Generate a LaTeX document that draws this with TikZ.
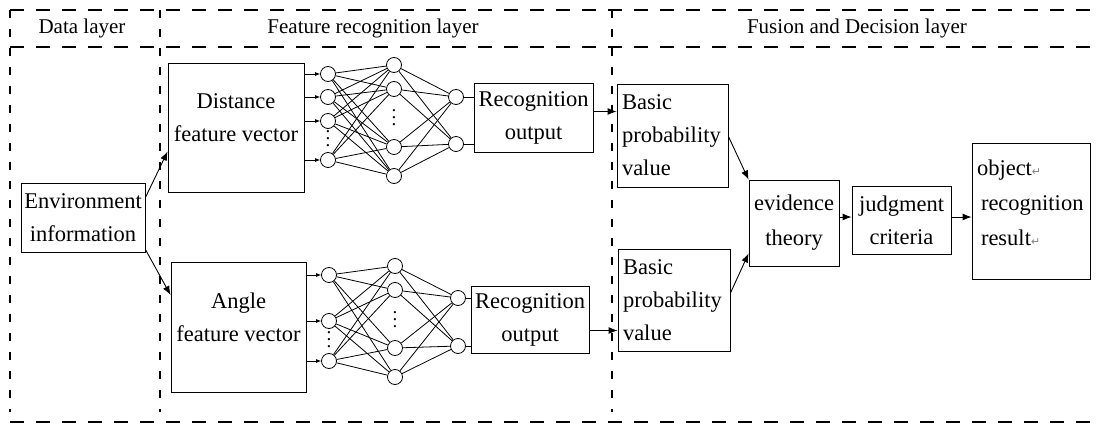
\documentclass[tikz,border=0pt]{standalone}
\usepackage{fontspec}
\setmainfont{Liberation Serif}
\newfontfamily\symfont{DejaVu Sans}
\usetikzlibrary{arrows.meta}

\newcommand{\retmark}{{\symfont\fontsize{11}{11}\selectfont\color{gray}↵}}
\newcommand{\colondots}{\vbox{\baselineskip=7pt\lineskiplimit=0pt\hbox{.}\hbox{.}\hbox{.}}}

\tikzstyle{box} = [rectangle, draw, line width=0.9pt, inner sep=0pt, align=center, font=\fontsize{22.5}{33}\selectfont]
\tikzstyle{leftbox} = [box, align=left, inner xsep=5pt]
\tikzstyle{neuron} = [circle, draw, fill=white, line width=0.8pt, minimum size=15pt, inner sep=0pt]
\tikzstyle{vdotsnode} = [inner sep=0pt, font=\fontsize{19}{19}\selectfont]
\tikzstyle{layertitle} = [font=\fontsize{21}{24}\selectfont]
\tikzstyle{arrow} = [line width=0.9pt, -{Latex[length=9pt,width=7pt]}]
\tikzstyle{feed} = [line width=0.8pt, -{Latex[length=5pt,width=4pt]}]
\tikzstyle{link} = [line width=0.8pt]
\tikzstyle{hframe} = [line width=2.6pt, dash pattern=on 14pt off 12pt]
\tikzstyle{vframe} = [line width=2.6pt, dash pattern=on 8pt off 11pt]

\begin{document}
\begin{tikzpicture}[x=1pt, y=-1pt]
    \useasboundingbox (0,0) rectangle (1097,425);
    % dashed frame of the three layers
    \draw [hframe] (10,10) -- (1097,10);
    \draw [hframe] (10,47) -- (1097,47);
    \draw [hframe] (10,422) -- (1097,422);
    \draw [vframe] (10,10) -- (10,412);
    \draw [vframe] (160,10) -- (160,412);
    \draw [vframe] (612,10) -- (612,412);
    \node [layertitle] at (82,28) (datatitle) {Data layer};
    \node [layertitle] at (373,28) (feattitle) {Feature recognition layer};
    \node [layertitle] at (857,28) (fusetitle) {Fusion and Decision layer};

    % data and feature boxes
    \node [box, minimum width=124pt, minimum height=69pt] at (83,217.5) (env) {Environment\\information};
    \node [box, minimum width=136pt, minimum height=129pt, text depth=20pt] at (236,127.5) (dist) {Distance\\feature vector};
    \node [box, minimum width=135pt, minimum height=130pt, text depth=20pt] at (238.5,327) (ang) {Angle\\feature vector};
    \node [box, minimum width=119pt, minimum height=69pt] at (533.5,117.5) (rec1) {Recognition\\output};
    \node [box, minimum width=118pt, minimum height=67pt] at (530,319.5) (rec2) {Recognition\\output};

    % upper network
    \foreach \y [count=\i] in {74,97,121,160}
        \node [neuron] at (328,\y) (din\i) {};
    \foreach \y [count=\i] in {65,89,147,176}
        \node [neuron] at (394,\y) (dhid\i) {};
    \foreach \y [count=\i] in {97,144}
        \node [neuron] at (456,\y) (dout\i) {};
    \node [vdotsnode] at (328,139) (ddots1) {\colondots};
    \node [vdotsnode] at (394,118) (ddots2) {\colondots};
    \foreach \i in {1,...,4} {
        \foreach \j in {1,...,4}
            \draw [link] (din\i) -- (dhid\j);
        \foreach \j in {1,2}
            \draw [link] (dhid\i) -- (dout\j);
        \draw [feed] (dist.east |- din\i) -- (din\i);
    }
    \foreach \i in {1,2}
        \draw [link] (dout\i) -- (dout\i -| rec1.west);

    % lower network
    \foreach \y [count=\i] in {275,321,361}
        \node [neuron] at (329,\y) (ain\i) {};
    \foreach \y [count=\i] in {266,290,348,377}
        \node [neuron] at (395,\y) (ahid\i) {};
    \foreach \y [count=\i] in {298,346}
        \node [neuron] at (458,\y) (aout\i) {};
    \node [vdotsnode] at (329,340) (adots1) {\colondots};
    \node [vdotsnode] at (395,320) (adots2) {\colondots};
    \foreach \i in {1,...,3} {
        \foreach \j in {1,...,4}
            \draw [link] (ain\i) -- (ahid\j);
        \draw [feed] (ang.east |- ain\i) -- (ain\i);
    }
    \foreach \i in {1,...,4}
        \foreach \j in {1,2}
            \draw [link] (ahid\i) -- (aout\j);
    \foreach \i in {1,2}
        \draw [link] (aout\i) -- (aout\i -| rec2.west);

    % fusion and decision
    \node [leftbox, text width=101pt, minimum height=103pt] at (672.5,135.5) (bp1) {Basic\\probability\\value};
    \node [leftbox, text width=102pt, minimum height=102pt] at (674,300) (bp2) {Basic\\probability\\value};
    \node [box, minimum width=90pt, minimum height=86pt, font=\fontsize{22.5}{35}\selectfont] at (794,223) (evid) {evidence\\theory};
    \node [box, minimum width=99pt, minimum height=68pt] at (901.5,220) (judg) {judgment\\criteria};
    \node [leftbox, text width=108pt, minimum height=136pt, text depth=86pt, font=\fontsize{22.5}{35}\selectfont] at (1031,211) (obj) {object\retmark\\\hspace*{4pt}recognition\\\hspace*{4pt}result\retmark};

    \draw [arrow] ([yshift=20pt]env.east) -- ([yshift=-24pt]dist.west);
    \draw [arrow] ([yshift=-32pt]env.east) -- ([yshift=32pt]ang.west);
    \draw [arrow] ([yshift=6pt]rec1.east) -- ([yshift=6pt]rec1.east -| bp1.west);
    \draw [arrow] ([yshift=-11pt]rec2.east) -- ([yshift=-11pt]rec2.east -| bp2.west);
    \draw [arrow] ([yshift=-1pt]bp1.east) -- (evid.north west);
    \draw [arrow] ([yshift=7pt]bp2.east) -- ([yshift=13pt]evid.south west);
    \draw [arrow] ([yshift=6pt]evid.east) -- ([yshift=6pt]evid.east -| judg.west);
    \draw [arrow] ([yshift=3pt]judg.east) -- ([yshift=3pt]judg.east -| obj.west);
\end{tikzpicture}
\end{document}
